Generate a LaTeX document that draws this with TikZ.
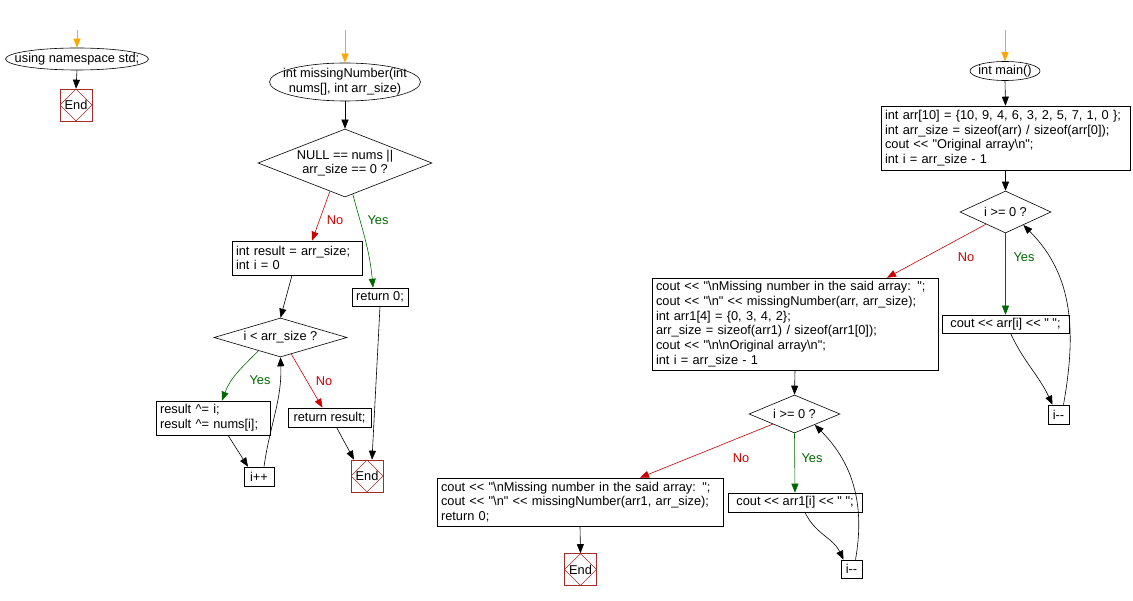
\documentclass[tikz,border=0pt]{standalone}
\usepackage{fontspec}
\setmainfont{Liberation Sans}[Ligatures=TeXOff]
\usetikzlibrary{shapes.geometric,arrows.meta}

\definecolor{flowred}{RGB}{204,0,0}
\definecolor{flowgreen}{RGB}{0,102,0}
\definecolor{entryorange}{RGB}{255,165,0}
\definecolor{endred}{RGB}{165,42,42}

\tikzset{
  every node/.style={font=\fontsize{12.8}{14.7}\selectfont},
  flow/.style={draw=black, line width=0.6pt, -{Triangle[length=9pt,width=7pt]}},
  entry/.style={flow, draw=entryorange},
  noflow/.style={flow, draw=flowred},
  yesflow/.style={flow, draw=flowgreen},
  nolabel/.style={text=flowred},
  yeslabel/.style={text=flowgreen},
  startell/.style={ellipse, draw, line width=0.6pt, inner xsep=-14pt, inner ysep=-4pt, align=center},
  decision/.style={diamond, draw, line width=0.6pt, inner sep=0pt, align=center},
  codebox/.style={rectangle, draw, line width=0.6pt, inner xsep=4pt, inner ysep=1pt, align=left},
  smallbox/.style={rectangle, draw, line width=0.6pt, inner xsep=2pt, inner ysep=1pt},
  endbox/.style={rectangle, draw=endred, line width=0.6pt, minimum size=32pt, inner sep=0pt,
    path picture={\draw[endred, line width=0.5pt] (path picture bounding box.north)
      -- (path picture bounding box.east) -- (path picture bounding box.south)
      -- (path picture bounding box.west) -- cycle;}},
}

\begin{document}
\begin{tikzpicture}[x=1pt, y=-1pt]
    % --- page frame (pixel grid of the reference) ---
    \useasboundingbox (0,0) rectangle (1133,601);

    % --- using namespace std ---
    \coordinate (nsin) at (77,30);
    \node[startell, minimum width=143pt, minimum height=22pt] (ns) at (77,59) {using namespace std;};
    \node[endbox] (end1) at (76,105) {End};
    \draw[entry] (nsin) -- (ns.north);
    \draw[flow] (ns.south) -- (end1.north);

    % --- int missingNumber(...) ---
    \coordinate (mnin) at (345,30);
    \node[startell, minimum width=151pt, minimum height=38pt] (mn) at (345,82) {int missingNumber(int\\nums[], int arr\_size)};
    \node[decision, minimum width=174pt, minimum height=68pt, aspect=2.56] (chk) at (345,163) {NULL == nums ||\\arr\_size == 0 ?};
    \node[codebox, minimum width=130pt, minimum height=34pt, text width=122pt] (init) at (297,258) {int result = arr\_size;\\int i = 0};
    \node[smallbox, minimum width=56pt, minimum height=18pt] (ret0) at (380,297) {return 0;};
    \node[decision, minimum width=133pt, minimum height=39pt, aspect=3.4] (loopa) at (280.5,337.5) {i < arr\_size ?};
    \node[codebox, minimum width=114pt, minimum height=34pt, text width=106pt] (xorbox) at (213,418) {result \textasciicircum= i;\\result \textasciicircum= nums[i];};
    \node[smallbox, minimum width=83pt, minimum height=19pt] (retres) at (329.5,417.5) {return result;};
    \node[smallbox, minimum width=30pt, minimum height=19pt] (inc) at (259,476.5) {i++};
    \node[endbox] (end2) at (367,476) {End};

    \draw[entry] (mnin) -- (mn.north);
    \draw[flow] (mn.south) -- (chk.north);
    \draw[noflow] (chk.242) -- ([xshift=15pt]init.north);
    \node[nolabel] (no1) at (335,220) {No};
    \draw[yesflow] (chk.284) to[out=-75, in=95] ([xshift=-7pt]ret0.north);
    \node[yeslabel] (yes1) at (378,220) {Yes};
    \draw[flow] ([xshift=-5pt]init.south) -- (loopa.north);
    \draw[yesflow] (loopa.211) to[out=225, in=70] ([xshift=9pt]xorbox.north);
    \node[yeslabel] (yes2) at (260,380) {Yes};
    \draw[noflow] (loopa.303) -- ([xshift=-7pt]retres.north);
    \node[nolabel] (no2) at (324,381) {No};
    \draw[flow] ([xshift=15pt]xorbox.south) -- ([xshift=-11pt]inc.north);
    \draw[flow] ([xshift=5pt]inc.north) to[out=82, in=-88] (loopa.south);
    \draw[flow] ([xshift=7pt]retres.south) -- ([xshift=-13pt]end2.north);
    \draw[flow] (ret0.south) -- ([xshift=5pt]end2.north);

    % --- int main() ---
    \coordinate (mainin) at (1005,30);
    \node[startell, minimum width=70pt, minimum height=19pt] (main) at (1005,71) {int main()};
    \node[codebox, minimum width=249pt, minimum height=64pt, text width=241pt] (setup) at (1005.5,138) {int arr[10] = \{10, 9, 4, 6, 3, 2, 5, 7, 1, 0 \};\\int arr\_size = sizeof(arr) / sizeof(arr[0]);\\cout << "Original array\textbackslash n";\\int i = arr\_size - 1};
    \node[decision, minimum width=91pt, minimum height=42pt, aspect=2.17] (loopb) at (1005.5,212) {i >= 0 ?};
    \node[smallbox, minimum width=127pt, minimum height=18pt] (printa) at (1005.5,324) {cout << arr[i] << " ";};
    \node[smallbox, minimum width=21pt, minimum height=19pt] (deca) at (1058.5,414.5) {i--};
    \node[codebox, minimum width=286pt, minimum height=92pt, text width=278pt] (second) at (795,324) {cout << "\textbackslash nMissing number in the said array: ";\\cout << "\textbackslash n" << missingNumber(arr, arr\_size);\\int arr1[4] = \{0, 3, 4, 2\};\\arr\_size = sizeof(arr1) / sizeof(arr1[0]);\\cout << "\textbackslash n\textbackslash nOriginal array\textbackslash n";\\int i = arr\_size - 1};
    \node[decision, minimum width=91pt, minimum height=38pt, aspect=2.4] (loopc) at (794.5,414) {i >= 0 ?};
    \node[smallbox, minimum width=134pt, minimum height=19pt] (printb) at (795,502.5) {cout << arr1[i] << " ";};
    \node[smallbox, minimum width=21pt, minimum height=18pt] (decb) at (851.5,569) {i--};
    \node[codebox, minimum width=286pt, minimum height=48pt, text width=278pt] (final) at (580,502) {cout << "\textbackslash nMissing number in the said array: ";\\cout << "\textbackslash n" << missingNumber(arr1, arr\_size);\\return 0;};
    \node[endbox] (end3) at (580.5,569.5) {End};

    \draw[entry] (mainin) -- (main.north);
    \draw[flow] (main.south) -- (setup.north);
    \draw[flow] (setup.south) -- (loopb.north);
    \draw[yesflow] (loopb.south) -- (printa.north);
    \node[yeslabel] (yes3) at (1024,257) {Yes};
    \draw[noflow] (loopb.212) -- ([xshift=92pt]second.north);
    \node[nolabel] (no3) at (966,257) {No};
    \draw[flow] ([xshift=5pt]printa.south) to[out=-65, in=115] ([xshift=-6pt]deca.north);
    \draw[flow] ([xshift=5pt]deca.north) to[out=80, in=-45] (loopb.324);
    \draw[flow] (second.south) -- (loopc.north);
    \draw[yesflow] (loopc.south) -- (printb.north);
    \node[yeslabel] (yes4) at (812,458) {Yes};
    \draw[noflow] (loopc.205) -- ([xshift=60pt]final.north);
    \node[nolabel] (no4) at (741,458) {No};
    \draw[flow] ([xshift=10pt]printb.south) to[out=-65, in=115] ([xshift=-8pt]decb.north);
    \draw[flow] ([xshift=4pt]decb.north) to[out=80, in=-45] (loopc.332);
    \draw[flow] (final.south) -- (end3.north);
\end{tikzpicture}
\end{document}
